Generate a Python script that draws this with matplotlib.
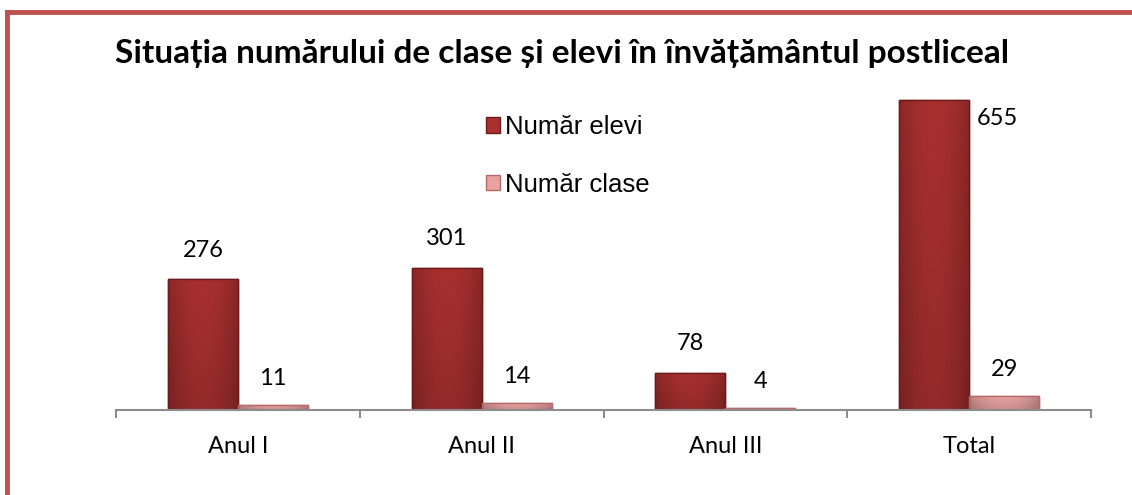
import matplotlib
matplotlib.use("Agg")
import matplotlib.pyplot as plt
import numpy as np
from matplotlib.patches import Patch
from matplotlib.lines import Line2D
from matplotlib.colors import to_rgb

title = "Situația numărului de clase și elevi în învățământul postliceal"
categories = ["Anul I", "Anul II", "Anul III", "Total"]
series_names = ["Număr elevi", "Număr clase"]
elevi = [276, 301, 78, 655]
clase = [11, 14, 4, 29]

c_elevi = "#A8302F"
c_elevi_edge = "#6E1A1A"
c_clase = "#E7A2A1"
c_clase_edge = "#B86A6A"

fig = plt.figure(figsize=(11.32, 4.95), dpi=100)
fig.patch.set_facecolor("white")

# red frame (top and left visible)
fig.add_artist(Line2D([7/1132, 1.0], [1 - 12/495, 1 - 12/495], color="#C0504D", lw=3.5, transform=fig.transFigure))
fig.add_artist(Line2D([7/1132, 7/1132], [0, 1 - 12/495], color="#C0504D", lw=3.5, transform=fig.transFigure))

ax = fig.add_axes([116/1132, 1 - 410/495, (1091 - 116)/1132, (410 - 79)/495])
x = np.arange(len(categories))
w = 0.287
b1 = ax.bar(x - w/2, elevi, w, color=c_elevi, edgecolor=c_elevi_edge, linewidth=1.0, zorder=3)
b2 = ax.bar(x + w/2, clase, w, color=c_clase, edgecolor=c_clase_edge, linewidth=1.0, zorder=3)


def shade(bars, base):
    r, g, b = to_rgb(base)
    nx, ny = 40, 60
    hx = np.linspace(-1, 1, nx)
    hy = np.linspace(0, 1, ny)[:, None]  # 0 bottom -> 1 top
    f = 1.0 - 0.18 * np.abs(hx)[None, :] ** 2 - 0.12 * (1 - hy)
    img = np.zeros((ny, nx, 3))
    img[..., 0] = np.clip(r * f, 0, 1)
    img[..., 1] = np.clip(g * f, 0, 1)
    img[..., 2] = np.clip(b * f, 0, 1)
    for bar in bars:
        x0, y0 = bar.get_x(), bar.get_y()
        bw, bh = bar.get_width(), bar.get_height()
        im = ax.imshow(img, extent=[x0, x0 + bw, y0, y0 + bh], origin="lower",
                       aspect="auto", zorder=3.5, interpolation="bilinear")
        im.set_clip_path(bar)
        edge = plt.Rectangle((x0, y0), bw, bh, fill=False, edgecolor=bar.get_edgecolor(),
                             linewidth=1.0, zorder=4)
        ax.add_patch(edge)


shade(b1, c_elevi)
shade(b2, c_clase)

ax.set_xlim(-0.5, len(categories) - 0.5)
ax.set_ylim(0, 700)
for s in ["top", "right", "left"]:
    ax.spines[s].set_visible(False)
ax.spines["bottom"].set_color("#8C8C8C")
ax.spines["bottom"].set_linewidth(1.5)
ax.spines["bottom"].set_zorder(5)
ax.set_yticks([])
ax.set_xticks(x)
ax.set_xticklabels(categories, fontsize=17, family="Lato")
ax.set_xticks(np.arange(len(categories) + 1) - 0.5, minor=True)
ax.tick_params(axis="x", which="major", length=0, pad=19)
ax.tick_params(axis="x", which="minor", length=6, width=1.5, color="#8C8C8C")

lab_font = dict(fontsize=17, family="Lato", ha="center", va="center")
for i, (xi, v) in enumerate(zip(x, elevi)):
    if i == len(elevi) - 1:
        ax.annotate(str(v), (xi + w/2, v), xytext=(-5, -13), textcoords="offset points", **lab_font)
    else:
        ax.annotate(str(v), (xi - w/2, v), xytext=(0, 21), textcoords="offset points", **lab_font)
for xi, v in zip(x, clase):
    ax.annotate(str(v), (xi + w/2, v), xytext=(0, 19), textcoords="offset points", **lab_font)

fig.text(562/1132, 1 - 53/495, title, ha="center", va="center", fontsize=24, fontweight="bold", family="Lato")

handles = [Patch(facecolor=c_elevi, edgecolor=c_elevi_edge), Patch(facecolor=c_clase, edgecolor=c_clase_edge)]
leg = fig.legend(handles, series_names, loc="upper left", bbox_to_anchor=(463/1132, 1 - 92/495),
                 frameon=False, handlelength=0.55, handleheight=0.55, handletextpad=0.2,
                 labelspacing=1.3, prop=dict(family="Liberation Sans", size=18.5))

fig.savefig("out.png", dpi=100)
